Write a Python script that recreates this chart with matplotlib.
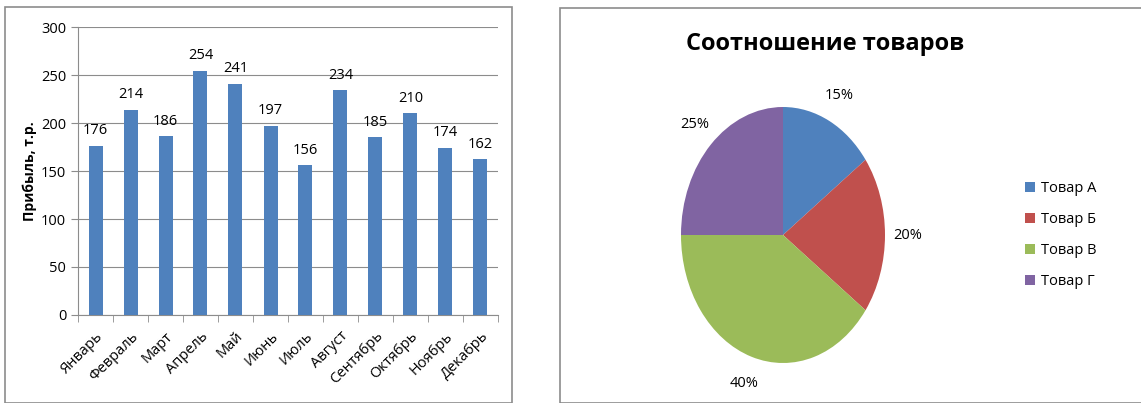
import matplotlib
matplotlib.use("Agg")
import matplotlib.pyplot as plt
from matplotlib.patches import Rectangle

plt.rcParams['font.family'] = ['Open Sans', 'DejaVu Sans']

# bar chart data
months = ["Январь", "Февраль", "Март", "Апрель", "Май", "Июнь",
          "Июль", "Август", "Сентябрь", "Октябрь", "Ноябрь", "Декабрь"]
profit = [176, 214, 186, 254, 241, 197, 156, 234, 185, 210, 174, 162]

# pie chart data
goods = ["Товар А", "Товар Б", "Товар В", "Товар Г"]
shares = [15, 20, 40, 25]

bar_color = "#4F81BD"
pie_colors = ["#4F81BD", "#C0504D", "#9BBB59", "#8064A2"]

W, H = 1141, 403
fig = plt.figure(figsize=(W / 100, H / 100), dpi=100)

def px(x0, y0, x1, y1):
    # pixel box -> figure fraction rect
    return [x0 / W, 1 - y1 / H, (x1 - x0) / W, (y1 - y0) / H]

# panel frames
fig.patches.append(Rectangle((5 / W, 0), 507 / W, 1 - 7 / H, transform=fig.transFigure,
                             fill=False, ec="#8c8c8c", lw=1.2))
fig.patches.append(Rectangle((560 / W, 0), 600 / W, 1 - 8 / H, transform=fig.transFigure,
                             fill=False, ec="#8c8c8c", lw=1.2))

########## bar chart ##########
ax = fig.add_axes(px(78, 27, 498, 315))
x = list(range(len(months)))
ax.bar(x, profit, width=0.4, color=bar_color, zorder=3)
for xi, v in zip(x, profit):
    ax.text(xi, v + 8, str(v), ha="center", va="bottom", fontsize=10.5)

ax.set_xlim(-0.5, len(months) - 0.5)
ax.set_ylim(0, 300)
ax.set_yticks(range(0, 301, 50))
ax.set_xticks(x)
ax.set_xticklabels(months, rotation=45, ha="right", rotation_mode="anchor", fontsize=10.5)
ax.set_xticks([i - 0.5 for i in range(len(months) + 1)], minor=True)
ax.tick_params(axis="x", which="major", length=0, pad=10)
ax.tick_params(axis="x", which="minor", length=5, color="#8c8c8c")
ax.tick_params(axis="y", length=5, color="#8c8c8c", labelsize=10.5)
ax.yaxis.grid(True, color="#8c8c8c", lw=0.8, zorder=0)
for s in ["top", "right"]:
    ax.spines[s].set_visible(False)
ax.spines["left"].set_color("#8c8c8c")
ax.spines["bottom"].set_color("#8c8c8c")
ax.set_ylabel("Прибыль, т.р.", fontsize=10, fontweight="bold", labelpad=3)

########## pie chart ##########
pax = fig.add_axes(px(653, 75, 913, 395))
wedges, texts = pax.pie(shares, colors=pie_colors, startangle=90, counterclock=False,
                        labels=[f"{s}%" for s in shares], labeldistance=1.22,
                        textprops={"fontsize": 10.5})
pax.set_aspect("auto")
pax.set_xlim(-130 / 102, 130 / 102)
pax.set_ylim(-160 / 128, 160 / 128)
for t in texts:
    t.set_ha("center")
    t.set_va("center")

fig.text(825 / W, 1 - 44 / H, "Соотношение товаров", ha="center", va="center",
         fontsize=17, fontweight="bold")

fig.legend(wedges, goods, loc="center left", bbox_to_anchor=(1012 / W, 1 - 235 / H),
           frameon=False, fontsize=10.5, handlelength=0.7, handleheight=0.7,
           handletextpad=0.4, labelspacing=1.1)

fig.savefig("out.png", dpi=100)
